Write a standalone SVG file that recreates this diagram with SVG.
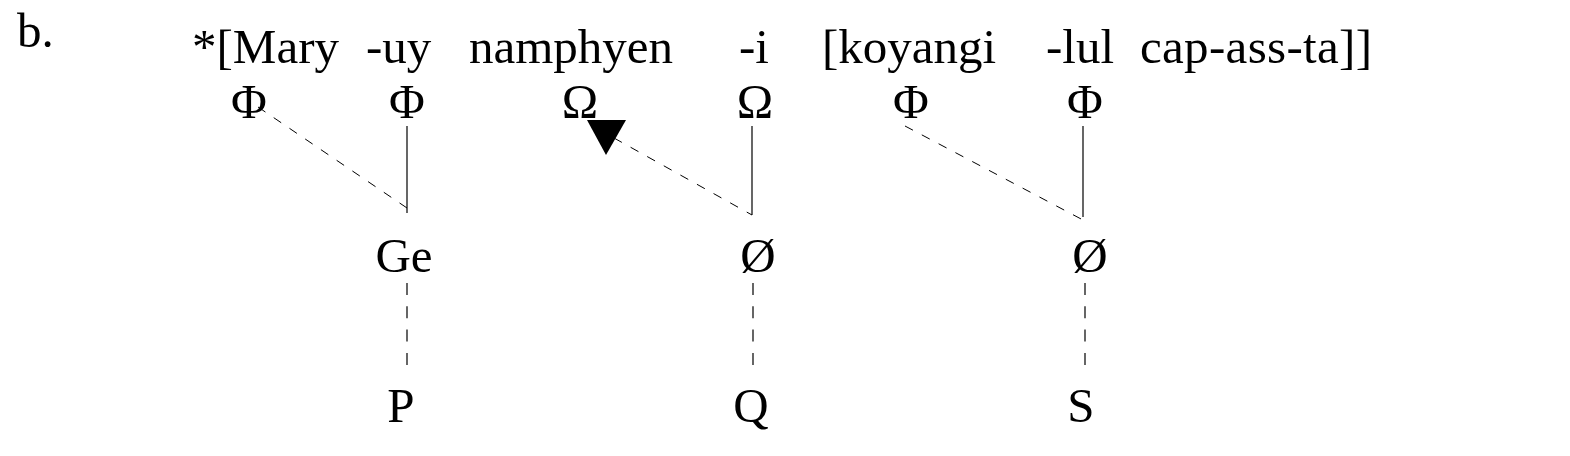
<svg xmlns="http://www.w3.org/2000/svg" width="1570" height="456" viewBox="0 0 1570 456">
<style>
text{font-family:"Liberation Serif","Times New Roman",serif;font-size:49px;fill:#000}
.m{text-anchor:middle}
.s{stroke:#000;stroke-width:1.2;fill:none}
.d{stroke:#000;stroke-width:1;fill:none;stroke-dasharray:9 10}
.v{stroke:#000;stroke-width:1.2;fill:none;stroke-dasharray:12 11.3}
</style>
<rect width="1570" height="456" fill="#fff"/>
<g id="label"><text x="17" y="47">b.</text></g>
<g id="sentence">
<text x="192" y="63">*[Mary</text>
<text x="366" y="63">-uy</text>
<text x="469" y="63">namphyen</text>
<text x="739" y="63">-i</text>
<text x="822" y="63">[koyangi</text>
<text x="1046" y="63">-lul</text>
<text x="1140" y="63" textLength="232">cap-ass-ta]]</text>
</g>
<g id="phi1"><text class="m" x="249" y="118">Φ</text></g>
<g id="phi2"><text class="m" x="407" y="118">Φ</text></g>
<g id="omega1"><text class="m" x="580" y="118">Ω</text></g>
<g id="omega2"><text class="m" x="755" y="118">Ω</text></g>
<g id="phi3"><text class="m" x="911" y="118">Φ</text></g>
<g id="phi4"><text class="m" x="1085" y="118">Φ</text></g>
<g id="ge"><text class="m" x="404" y="272">Ge</text></g>
<g id="null1"><text class="m" x="758" y="272">Ø</text></g>
<g id="null2"><text class="m" x="1090" y="272">Ø</text></g>
<g id="p"><text class="m" x="401" y="422">P</text></g>
<g id="q"><text class="m" x="751" y="422">Q</text></g>
<g id="s"><text class="m" x="1081" y="422">S</text></g>
<g id="connectors">
<line class="d" x1="258" y1="107" x2="407" y2="208"/>
<line class="s" x1="407" y1="126" x2="407" y2="213"/>
<line class="d" x1="614" y1="138" x2="752" y2="215"/>
<line class="s" x1="752" y1="126" x2="752" y2="215"/>
<polygon points="587,120 626,120 606,155" fill="#000"/>
<line class="d" x1="905" y1="126" x2="1083" y2="220"/>
<line class="s" x1="1083" y1="126" x2="1083" y2="217"/>
<line class="v" x1="407" y1="283" x2="407" y2="375"/>
<line class="v" x1="753" y1="283" x2="753" y2="375"/>
<line class="v" x1="1085" y1="283" x2="1085" y2="375"/>
</g>
</svg>
